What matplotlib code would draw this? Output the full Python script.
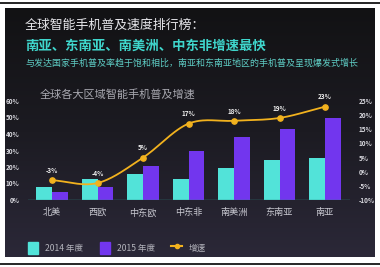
import numpy as np
import matplotlib
matplotlib.use('Agg')
import matplotlib.pyplot as plt
from matplotlib.colors import LinearSegmentedColormap
from matplotlib.lines import Line2D
from matplotlib.patches import Patch

plt.rcParams['font.family'] = ['Noto Sans CJK SC', 'DejaVu Sans']

regions    = ['北美', '西欧', '中东欧', '中东非', '南美洲', '东南亚', '南亚']
pen_2014   = [8, 12.5, 15.5, 12.5, 19.5, 24, 25.5]
pen_2015   = [5, 8, 20.5, 29.5, 38, 43, 49.5]
growth     = [-3, -4, 5, 17, 18, 19, 23]
left_ticks  = [0, 10, 20, 30, 40, 50, 60]
right_ticks = [-10, -5, 0, 5, 10, 15, 20, 25]

W, H = 380, 267
fig = plt.figure(figsize=(W / 100, H / 100), dpi=100)
fig.patch.set_facecolor('white')

def fx(px):
    return px / W

def fy(py):
    return 1 - py / H

# dark panel with vertical gradient
bg = fig.add_axes([fx(5), fy(257), fx(370), (257 - 8) / H])
cmap = LinearSegmentedColormap.from_list('bg', ['#121214', '#1c1b22', '#2b2838'])
bg.imshow(np.linspace(0, 1, 256).reshape(-1, 1), aspect='auto', cmap=cmap,
          extent=[0, 1, 0, 1], origin='upper')
bg.set_axis_off()

# black rules top and bottom
fig.add_artist(Line2D([0, 1], [fy(2.5), fy(2.5)], color='black', lw=1.2))
fig.add_artist(Line2D([0, 1], [fy(263.5), fy(263.5)], color='black', lw=1.2))

# headings
fig.text(fx(25), fy(25), '全球智能手机普及速度排行榜：', color='#e6e6ea',
         fontsize=9.3, va='center', ha='left')
fig.text(fx(25), fy(46), '南亚、东南亚、南美洲、中东非增速最快', color='#3fd6cc',
         fontsize=9.6, fontweight='bold', va='center', ha='left')
fig.text(fx(25), fy(63), '与发达国家手机普及率趋于饱和相比，南亚和东南亚地区的手机普及呈现爆发式增长',
         color='#5fcfc6', fontsize=6.45, va='center', ha='left')
fig.text(fx(40), fy(94), '全球各大区域智能手机普及增速', color='#a8a8b0',
         fontsize=8, va='center', ha='left')

# bars
ax = fig.add_axes([fx(28), fy(200), fx(322), 99 / H])
ax.set_facecolor('none')
x = np.arange(len(regions))
bw = 0.345
ax.bar(x - bw / 2, pen_2014, bw, color='#52e3d9', zorder=2)
ax.bar(x + bw / 2, pen_2015, bw, color='#7236ee', zorder=2)
ax.axhline(0, color='#2d8a86', lw=1.0, zorder=3)
ax.set_xlim(-0.53, len(regions) - 1 + 0.55)
ax.set_ylim(0, 60)
ax.set_yticks(left_ticks)
ax.set_yticklabels([f'{v}%' for v in left_ticks])
ax.set_xticks(x)
ax.set_xticklabels(regions)
ax.tick_params(axis='y', length=0, pad=6, labelsize=4.6, labelcolor='#d8d8de')
ax.tick_params(axis='x', length=0, pad=6, labelsize=6.6, labelcolor='#c8c8d0')
for t in ax.get_yticklabels():
    t.set_fontweight('bold')
for s in ax.spines.values():
    s.set_visible(False)

# growth line on right axis, drawn as a smooth cardinal curve through the points
ax2 = ax.twinx()
ax2.set_ylim(-10, 25)
ax2.set_yticks(right_ticks)
ax2.set_yticklabels([f'{v}%' for v in right_ticks])
ax2.tick_params(axis='y', length=0, pad=6, labelsize=4.6, labelcolor='#d8d8de')
for t in ax2.get_yticklabels():
    t.set_fontweight('bold')
for s in ax2.spines.values():
    s.set_visible(False)

g = np.array(growth, dtype=float)
m = np.gradient(g, x)
xs, ys = [], []
for i in range(len(x) - 1):
    t = np.linspace(0, 1, 30)
    h00 = 2 * t**3 - 3 * t**2 + 1
    h10 = t**3 - 2 * t**2 + t
    h01 = -2 * t**3 + 3 * t**2
    h11 = t**3 - t**2
    xs.append(x[i] + t)
    ys.append(h00 * g[i] + h10 * m[i] + h01 * g[i + 1] + h11 * m[i + 1])
ax2.plot(np.concatenate(xs), np.concatenate(ys), color='#f2b21e', lw=1.3, zorder=4)
ax2.plot(x, g, 'o', color='#f2b21e', ms=3.8, zorder=5)
for xi, gi in zip(x, growth):
    ax2.text(xi, gi + 2.2, f'{gi}%', color='#eeeeee', fontsize=4.6,
             fontweight='bold', ha='center', va='bottom')

# legend
handles = [Patch(color='#52e3d9'), Patch(color='#7236ee'),
           Line2D([0], [0], color='#f2b21e', lw=1.5, marker='o', ms=3)]
fig.legend(handles, ['2014 年度', '2015 年度', '增速'],
           loc='center left', bbox_to_anchor=(fx(28), fy(248)), ncol=3,
           frameon=False, fontsize=6.2, labelcolor='#b4b4bc',
           handlelength=1.2, handleheight=1.8, handletextpad=0.8,
           columnspacing=1.9, borderaxespad=0, borderpad=0)

fig.savefig('out.png', dpi=100)
